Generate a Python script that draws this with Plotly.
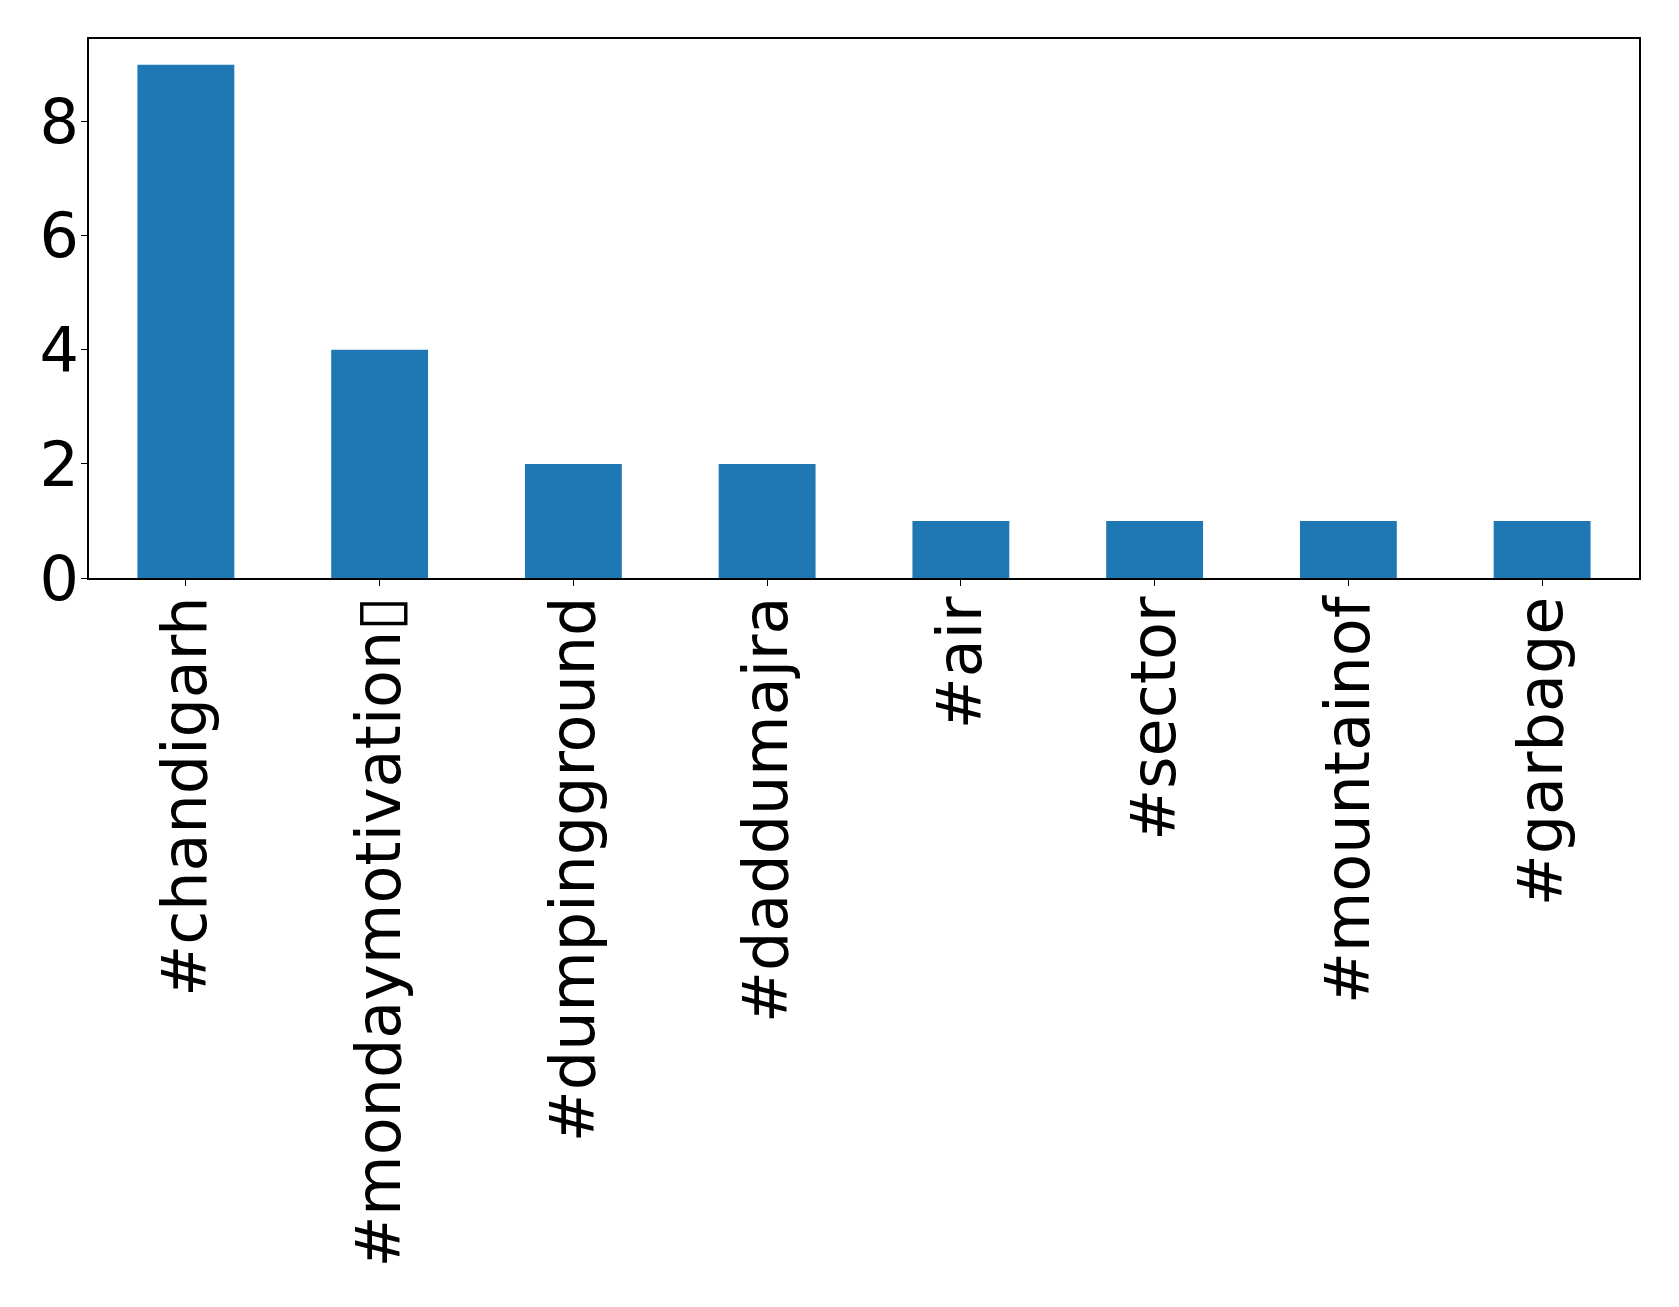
import plotly.graph_objects as go

categories = ["#chandigarh", "#mondaymotivation\u25af", "#dumpingground", "#daddumajra",
              "#air", "#sector", "#mountainof", "#garbage"]
counts = [9, 4, 2, 2, 1, 1, 1, 1]
y_ticks = [0, 2, 4, 6, 8]

fig = go.Figure(go.Bar(x=list(range(len(categories))), y=counts,
                       marker=dict(color="#1f77b4", line=dict(width=0)),
                       width=0.5))

font = dict(family="DejaVu Sans", size=62, color="black")
fig.update_layout(
    width=1679, height=1307,
    margin=dict(l=81, r=48, t=31, b=737),
    paper_bgcolor="white", plot_bgcolor="white",
    showlegend=False,
    font=font,
)
fig.update_xaxes(
    range=[-0.5, len(categories) - 0.5],
    tickmode="array", tickvals=list(range(len(categories))), ticktext=categories,
    tickangle=-90, ticks="outside", ticklen=6, tickcolor="black",
    ticklabelstandoff=-14,
    showline=True, linecolor="black", linewidth=1.5, mirror=True,
    showgrid=False, zeroline=False, tickfont=font, automargin=False,
)
fig.update_yaxes(
    range=[0, 9.45],
    tickmode="array", tickvals=y_ticks, ticktext=[str(v) for v in y_ticks],
    ticks="outside", ticklen=6, tickcolor="black",
    ticklabelstandoff=-10,
    showline=True, linecolor="black", linewidth=1.5, mirror=True,
    showgrid=False, zeroline=False, tickfont=font, automargin=False,
)
fig.write_html("out.html")
